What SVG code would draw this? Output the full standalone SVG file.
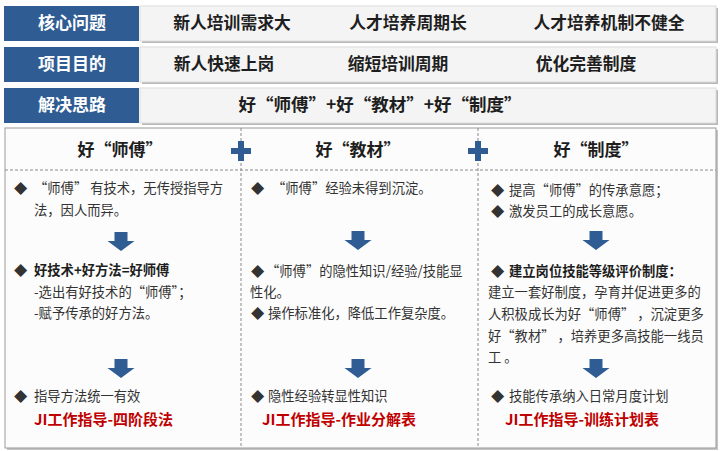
<svg xmlns="http://www.w3.org/2000/svg" width="720" height="451" viewBox="0 0 720 451">
<defs>
<style>
.lab{fill:#2f5d93;}
.labt{font-family:"Noto Sans CJK SC","Liberation Sans",sans-serif;font-weight:bold;font-size:17px;fill:#ffffff;text-anchor:middle;}
.pan{fill:#f4f4f4;stroke:#dcdcdc;stroke-width:1;}
.sh{fill:#b8b8b8;}
.rt{font-family:"Noto Sans CJK SC","Liberation Sans",sans-serif;font-weight:bold;font-size:16.8px;fill:#1e1e1e;text-anchor:middle;}
.hd{font-family:"Noto Sans CJK SC","Liberation Sans",sans-serif;font-weight:bold;font-size:17px;fill:#1e1e1e;text-anchor:middle;}
.bt{font-family:"Noto Sans CJK SC","Liberation Sans",sans-serif;font-size:13.3px;fill:#333333;}
.bb{font-family:"Noto Sans CJK SC","Liberation Sans",sans-serif;font-size:13.3px;fill:#1e1e1e;font-weight:bold;}
.red{font-family:"Noto Sans CJK SC","Liberation Sans",sans-serif;font-size:15px;fill:#c00000;font-weight:bold;}
.dash{stroke:#8a8a8a;stroke-width:1;stroke-dasharray:3,2;fill:none;}
.blue{fill:#2f5d93;}
</style>
<path id="arr" d="M-6.5,0 H6.5 V9 H13.5 L0,19 L-13.5,9 H-6.5 Z"/>
<path id="plus" d="M-3,-10 H3 V-3 H10 V3 H3 V10 H-3 V3 H-10 V-3 H-3 Z"/>
</defs>
<rect width="720" height="451" fill="#ffffff"/>

<g id="row1">
<rect x="142" y="8" width="576" height="35" class="sh"/>
<rect x="140" y="6" width="576" height="35" class="pan"/>
<rect x="4" y="6" width="135" height="35" class="lab"/>
<text x="72" y="29" class="labt">核心问题</text>
<text x="232" y="29" class="rt">新人培训需求大</text>
<text x="408" y="29" class="rt">人才培养周期长</text>
<text x="609" y="29" class="rt">人才培养机制不健全</text>
</g>
<g id="row2">
<rect x="142" y="49" width="576" height="35" class="sh"/>
<rect x="140" y="47" width="576" height="35" class="pan"/>
<rect x="4" y="47" width="135" height="35" class="lab"/>
<text x="72" y="70" class="labt">项目目的</text>
<text x="224" y="70" class="rt">新人快速上岗</text>
<text x="398" y="70" class="rt">缩短培训周期</text>
<text x="586" y="70" class="rt">优化完善制度</text>
</g>
<g id="row3">
<rect x="142" y="90" width="576" height="35" class="sh"/>
<rect x="140" y="88" width="576" height="35" class="pan"/>
<rect x="4" y="88" width="135" height="35" class="lab"/>
<text x="72" y="111" class="labt">解决思路</text>
<text x="380" y="111" class="rt" style="font-size:17.5px">好“师傅”+好“教材”+好“制度”</text>
</g>

<g id="mainbox">
<rect x="7" y="130" width="711" height="320" fill="#c4c4c4"/>
<rect x="5" y="128" width="711" height="320" fill="#fcfcfc" stroke="#9a9a9a" stroke-width="1"/>
</g>

<g id="connectors">
<line x1="5" y1="170" x2="716" y2="170" class="dash"/>
<line x1="241" y1="128" x2="241" y2="448" class="dash"/>
<line x1="478" y1="128" x2="478" y2="448" class="dash"/>
<use href="#plus" x="241" y="151" class="blue"/>
<use href="#plus" x="478" y="151" class="blue"/>
<use href="#arr" x="121" y="232" class="blue"/>
<use href="#arr" x="121" y="359" class="blue"/>
<use href="#arr" x="358" y="231" class="blue"/>
<use href="#arr" x="358" y="359" class="blue"/>
<use href="#arr" x="596" y="231" class="blue"/>
<use href="#arr" x="596" y="359" class="blue"/>
</g>

<g id="col1">
<text x="120" y="156" class="hd">好“师傅”</text>
<text x="14" y="193" class="bt" fill="#000">◆</text>
<text x="34" y="193" class="bt">“师傅” 有技术，无传授指导方</text>
<text x="34" y="215" class="bt">法，因人而异。</text>
<text x="14" y="275" class="bt" fill="#000">◆</text>
<text x="34" y="275" class="bb">好技术+好方法=好师傅</text>
<text x="34" y="297" class="bt">-选出有好技术的“师傅”；</text>
<text x="34" y="318" class="bt">-赋予传承的好方法。</text>
<text x="14" y="401" class="bt" fill="#000">◆</text>
<text x="34" y="401" class="bt">指导方法统一有效</text>
<text x="34" y="425" class="red">JI工作指导-四阶段法</text>
</g>

<g id="col2">
<text x="358" y="156" class="hd">好“教材”</text>
<text x="251" y="193" class="bt" fill="#000">◆</text>
<text x="272" y="193" class="bt">“师傅”经验未得到沉淀。</text>
<text x="251" y="276" class="bt" fill="#000">◆</text>
<text x="266" y="276" class="bt">“师傅”的隐性知识/经验/技能显</text>
<text x="250" y="297" class="bt">性化。</text>
<text x="251" y="318" class="bt" fill="#000">◆</text>
<text x="268" y="318" class="bt">操作标准化，降低工作复杂度。</text>
<text x="251" y="401" class="bt" fill="#000">◆</text>
<text x="268" y="401" class="bt">隐性经验转显性知识</text>
<text x="262" y="425" class="red">JI工作指导-作业分解表</text>
</g>

<g id="col3">
<text x="596" y="156" class="hd">好“制度”</text>
<text x="491" y="195" class="bt" fill="#000">◆</text>
<text x="509" y="195" class="bt">提高“师傅”的传承意愿；</text>
<text x="491" y="216" class="bt" fill="#000">◆</text>
<text x="509" y="216" class="bt">激发员工的成长意愿。</text>
<text x="491" y="276" class="bt" fill="#000">◆</text>
<text x="509" y="276" class="bb">建立岗位技能等级评价制度：</text>
<text x="488" y="297" class="bt">建立一套好制度，孕育并促进更多的</text>
<text x="488" y="319" class="bt">人积极成长为好“师傅” ，沉淀更多</text>
<text x="488" y="341" class="bt">好“教材” ，培养更多高技能一线员</text>
<text x="488" y="362" class="bt">工 。</text>
<text x="491" y="401" class="bt" fill="#000">◆</text>
<text x="509" y="401" class="bt">技能传承纳入日常月度计划</text>
<text x="505" y="425" class="red">JI工作指导-训练计划表</text>
</g>
</svg>
